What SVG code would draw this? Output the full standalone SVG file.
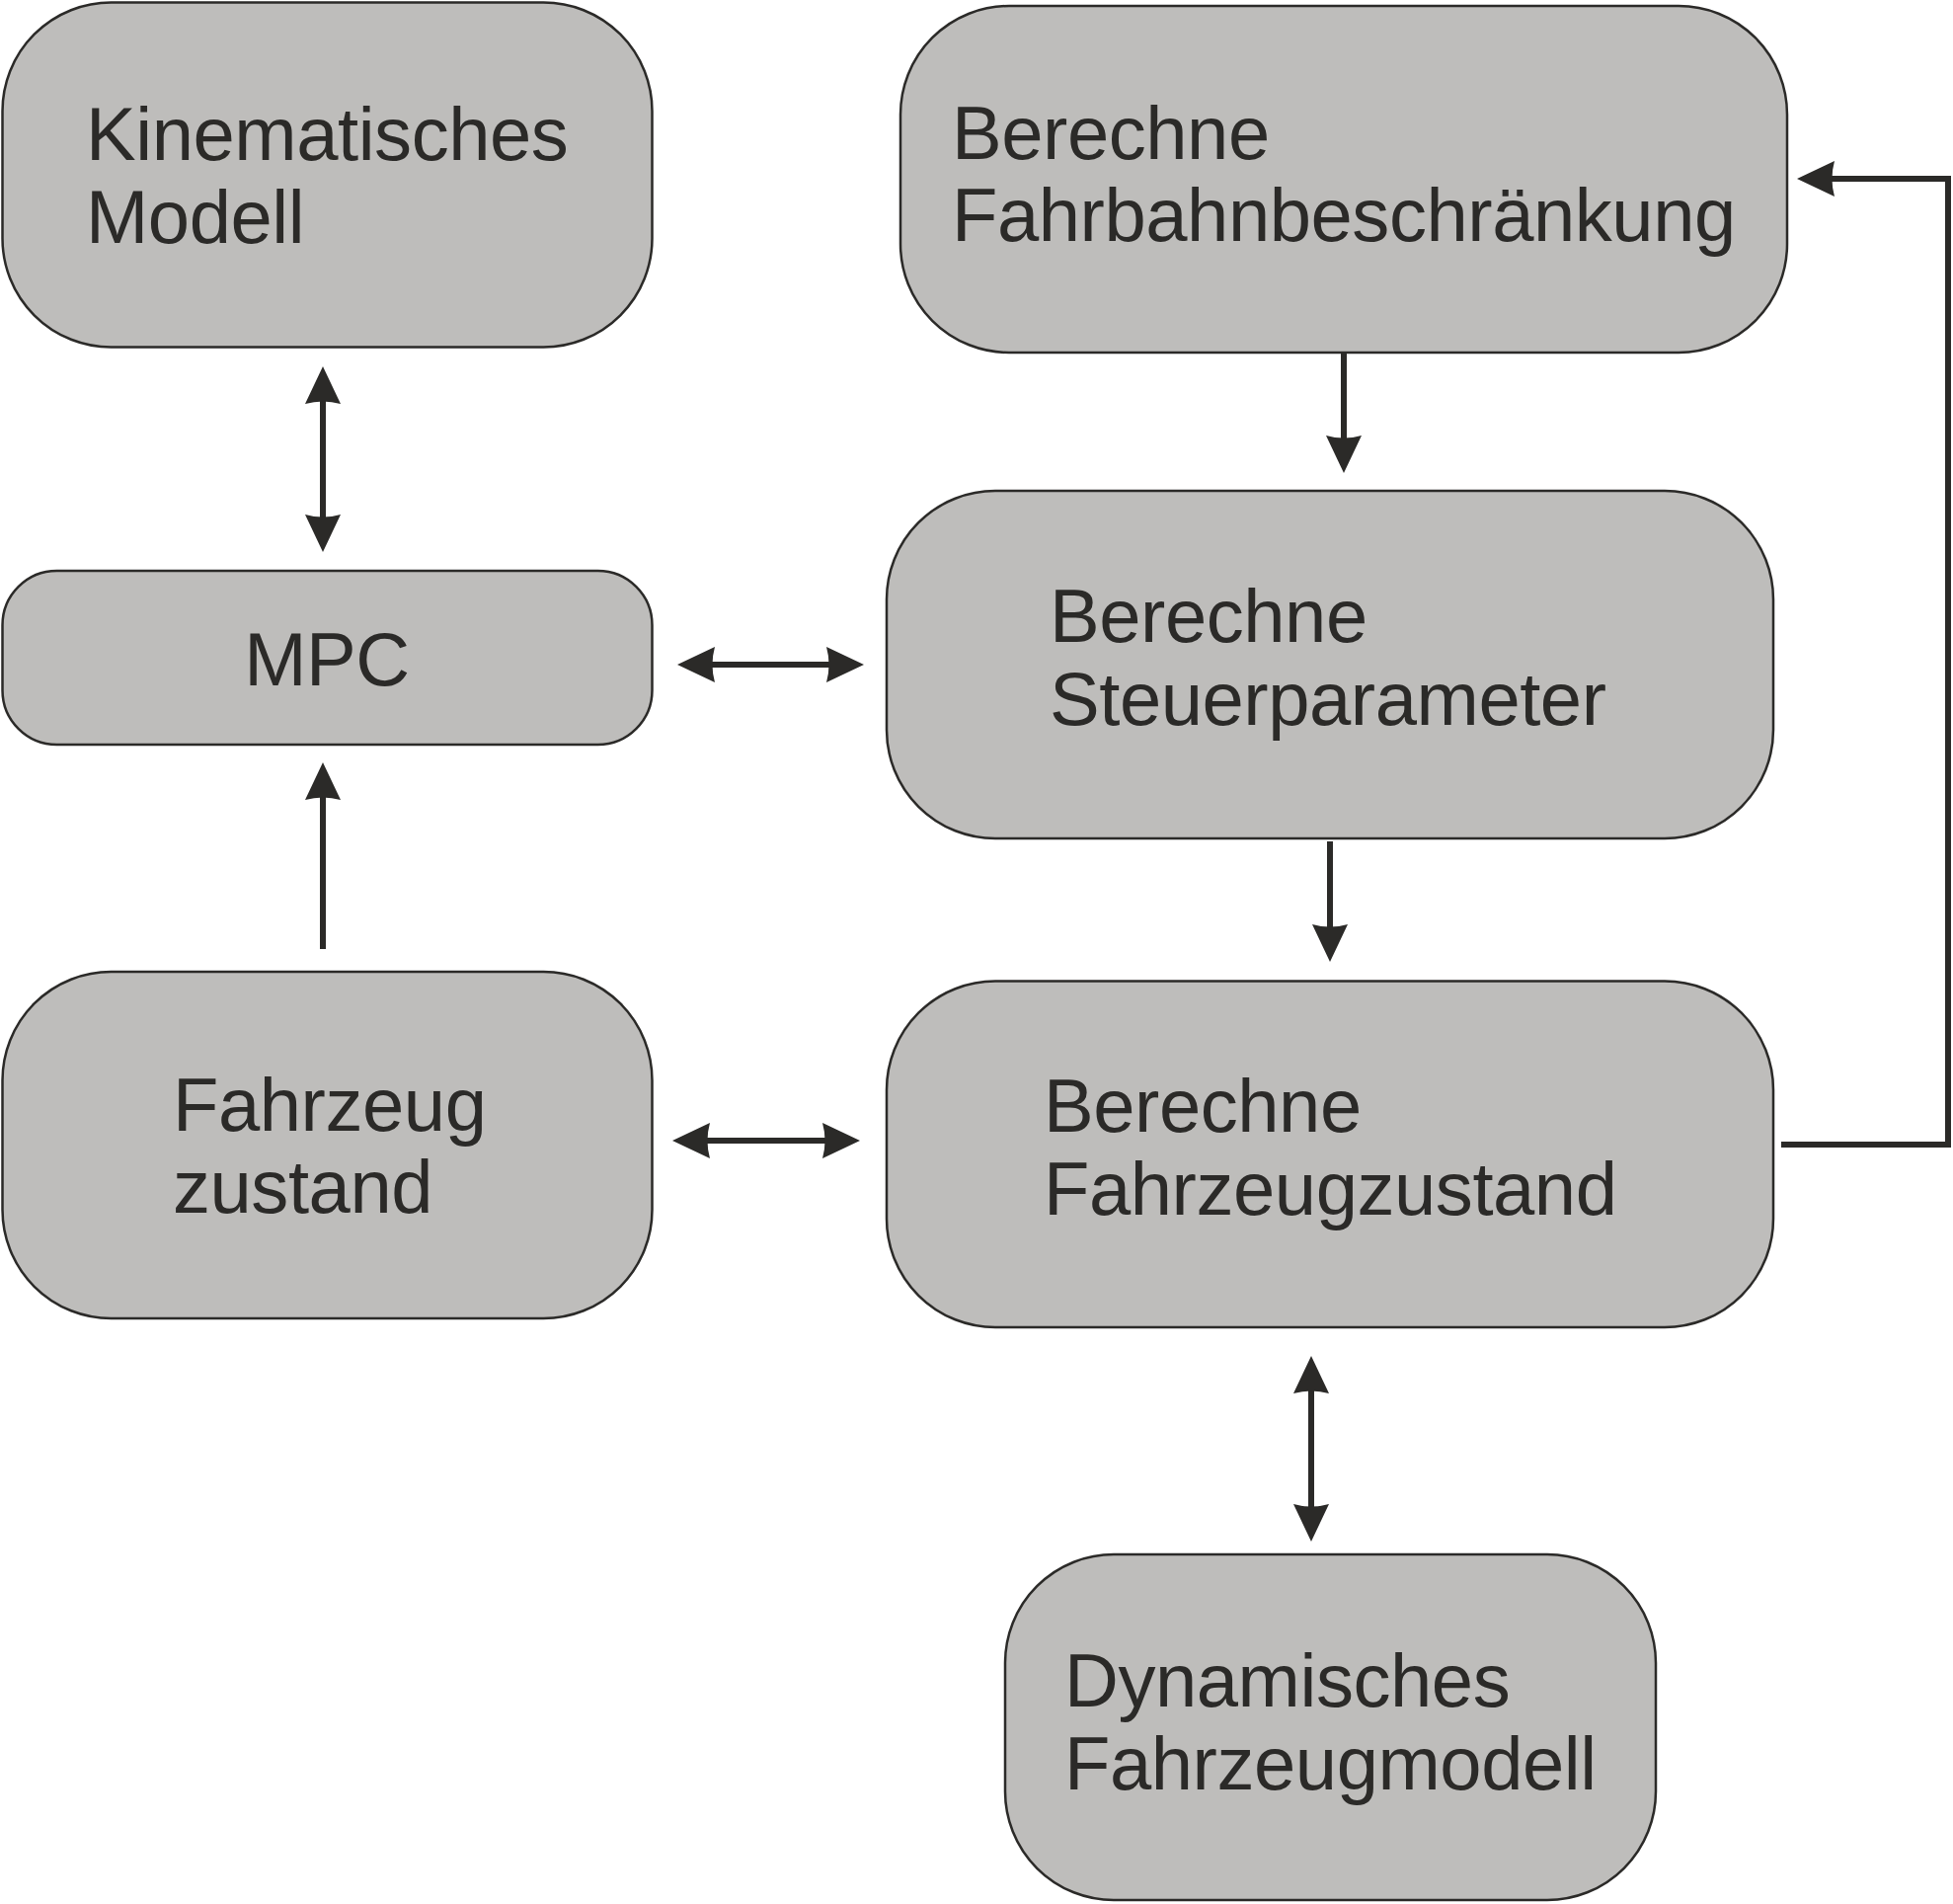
<svg xmlns="http://www.w3.org/2000/svg" width="1978" height="1928" viewBox="0 0 1978 1928">
<style>
.box{fill:#bebdbb;stroke:#2b2a28;stroke-width:2.5}
.t{font-family:"Liberation Sans",Arial,Helvetica,sans-serif;font-size:76px;fill:#2b2a28;letter-spacing:-0.45px}
.c{fill:none;stroke:#2b2a28;stroke-width:6}
</style>
<defs>
<marker id="ah" viewBox="-40 -20 52 40" refX="-10" refY="0" markerWidth="52" markerHeight="40" markerUnits="userSpaceOnUse" orient="auto-start-reverse">
<path d="M0,0 L-38,-18 Q-33,0 -38,18 Z" fill="#2b2a28"/>
</marker>
</defs>
<rect width="1978" height="1928" fill="#ffffff"/>
<g id="kinematisches-modell">
<rect class="box" x="2.5" y="2.5" width="658" height="349" rx="110" ry="110"/>
<text class="t" x="87" y="162">Kinematisches</text>
<text class="t" x="87" y="246">Modell</text>
</g>
<g id="mpc">
<rect class="box" x="2.5" y="578" width="658" height="176" rx="55" ry="55"/>
<text class="t" x="331" y="694" text-anchor="middle">MPC</text>
</g>
<g id="fahrzeugzustand">
<rect class="box" x="2.5" y="984" width="658" height="351" rx="110" ry="110"/>
<text class="t" x="175" y="1145">Fahrzeug</text>
<text class="t" x="175" y="1228">zustand</text>
</g>
<g id="berechne-fahrbahnbeschraenkung">
<rect class="box" x="912" y="6" width="898" height="351" rx="110" ry="110"/>
<text class="t" x="964" y="161">Berechne</text>
<text class="t" x="964" y="244">Fahrbahnbeschränkung</text>
</g>
<g id="berechne-steuerparameter">
<rect class="box" x="898" y="497" width="898" height="352" rx="110" ry="110"/>
<text class="t" x="1063" y="650">Berechne</text>
<text class="t" x="1063" y="734">Steuerparameter</text>
</g>
<g id="berechne-fahrzeugzustand">
<rect class="box" x="898" y="993.5" width="898" height="350.5" rx="110" ry="110"/>
<text class="t" x="1057" y="1146">Berechne</text>
<text class="t" x="1057" y="1230">Fahrzeugzustand</text>
</g>
<g id="dynamisches-fahrzeugmodell">
<rect class="box" x="1018" y="1574" width="659" height="350" rx="110" ry="110"/>
<text class="t" x="1078" y="1728">Dynamisches</text>
<text class="t" x="1078" y="1812">Fahrzeugmodell</text>
</g>
<g id="connectors">
<line class="c" x1="327" y1="381" x2="327" y2="549" marker-start="url(#ah)" marker-end="url(#ah)"/>
<line class="c" x1="696" y1="673" x2="865" y2="673" marker-start="url(#ah)" marker-end="url(#ah)"/>
<line class="c" x1="327" y1="961" x2="327" y2="782" marker-end="url(#ah)"/>
<line class="c" x1="1361" y1="357" x2="1361" y2="469" marker-end="url(#ah)"/>
<line class="c" x1="1347" y1="852" x2="1347" y2="964" marker-end="url(#ah)"/>
<line class="c" x1="691" y1="1155" x2="861" y2="1155" marker-start="url(#ah)" marker-end="url(#ah)"/>
<line class="c" x1="1328" y1="1383" x2="1328" y2="1551" marker-start="url(#ah)" marker-end="url(#ah)"/>
<polyline class="c" points="1804,1159 1973,1159 1973,181 1830,181" marker-end="url(#ah)"/>
</g>
</svg>
